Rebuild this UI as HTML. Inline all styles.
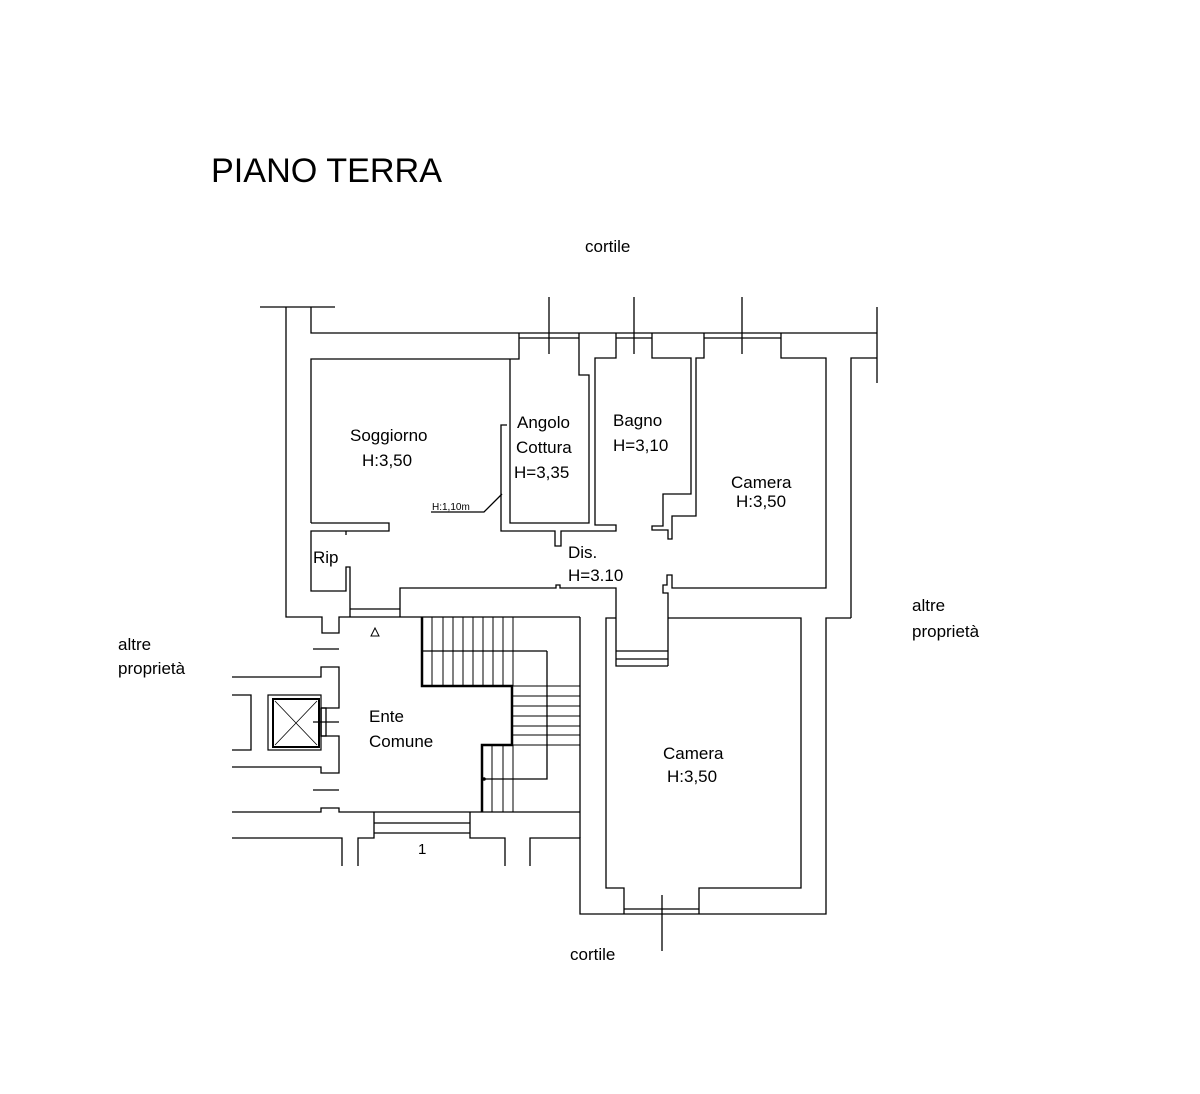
<!DOCTYPE html>
<html><head><meta charset="utf-8"><style>
html,body{margin:0;padding:0;background:#fff;}
svg{display:block;}
text{font-family:"Liberation Sans",sans-serif;fill:#000;}
</style></head><body>
<svg width="1200" height="1094" viewBox="0 0 1200 1094" xmlns="http://www.w3.org/2000/svg">
<rect width="1200" height="1094" fill="#fff"/>
<g fill="none" stroke="#000" stroke-width="1.3">
<!-- left outer wall -->
<polyline points="260,307 335,307"/>
<polyline points="286,307 286,617 322,617 322,633 339,633 339,617 580,617"/>
<polyline points="311,307 311,333 877,333"/>
<polyline points="877,307 877,383"/>
<!-- top inner line / windows -->
<polyline points="311,523 311,359 519,359 519,333"/>
<line x1="519" y1="338" x2="579" y2="338"/>
<line x1="549" y1="297" x2="549" y2="354"/>
<polyline points="579,333 579,375 589,375 589,523 510,523 510,359"/>
<polyline points="616,333 616,358 595,358 595,525 616,525 616,531 561,531 561,546 555,546 555,531 501,531 501,425 507,425"/>
<line x1="616" y1="338" x2="652" y2="338"/>
<line x1="634" y1="297" x2="634" y2="354"/>
<polyline points="652,333 652,358 691,358 691,494 663,494 663,526 652,526 652,530 668,530 668,539 672,539 672,516 696,516 696,358 704,358 704,333"/>
<line x1="704" y1="338" x2="781" y2="338"/>
<line x1="742" y1="297" x2="742" y2="354"/>
<polyline points="781,333 781,358 826,358 826,588 672,588 672,575 667,575 667,585 663,585 663,593 668,593 668,666"/>
<polyline points="851,618 851,358 877,358"/>
<polyline points="851,618 826,618 826,914 580,914 580,838 530,838 530,866"/>
<!-- soggiorno/rip -->
<polyline points="311,523 389,523 389,531 311,531 311,591 346,591 346,567 350,567 350,617"/>
<line x1="346" y1="531" x2="346" y2="535"/>
<polyline points="350,609 400,609"/>
<polyline points="400,617 400,588 556,588 556,585 560,585 560,588 616,588 616,666 668,666"/>
<line x1="616" y1="651" x2="668" y2="651"/>
<line x1="616" y1="659" x2="668" y2="659"/>
<!-- H1,10 leader -->
<polyline points="431,512 484,512 502,494"/>
<!-- camera 2 -->
<polyline points="668,618 801,618 801,888 699,888 699,914"/>
<polyline points="616,618 606,618 606,888 624,888 624,914"/>
<line x1="624" y1="909" x2="699" y2="909"/>
<line x1="662" y1="895" x2="662" y2="951"/>
<polyline points="580,617 580,812"/>
<!-- ente comune left -->
<line x1="313" y1="649" x2="339" y2="649"/>
<polyline points="232,677 321,677 321,667 339,667 339,708 321,708"/>
<polyline points="321,708 321,736 339,736 339,773 321,773 321,767 232,767"/>
<rect x="321" y="708" width="5" height="28"/>
<line x1="313" y1="722" x2="339" y2="722"/>
<line x1="313" y1="790" x2="339" y2="790"/>
<polyline points="232,812 321,812 321,808 339,808 339,812 580,812"/>
<polyline points="232,695 251,695 251,750 232,750"/>
<rect x="268" y="695" width="53" height="55" stroke-width="1.2"/>
<rect x="273" y="699" width="46" height="48" stroke-width="2"/>
<line x1="275" y1="701" x2="317" y2="745" stroke-width="0.8"/>
<line x1="317" y1="701" x2="275" y2="745" stroke-width="0.8"/>
<!-- bottom -->
<polyline points="232,838 342,838 342,866"/>
<polyline points="358,866 358,838 374,838 374,812"/>
<line x1="374" y1="823" x2="470" y2="823"/>
<line x1="374" y1="833" x2="470" y2="833"/>
<polyline points="470,812 470,838 505,838 505,866"/>
<line x1="580" y1="838" x2="580" y2="812"/>
<!-- stairs -->
<polyline points="422,617 422,686 512,686 512,745 482,745 482,812" stroke-width="2.5"/>
<line x1="422" y1="651" x2="547" y2="651"/>
<polyline points="547,651 547,779 482,779"/>
<g stroke-width="1">
<line x1="432" y1="617" x2="432" y2="686"/><line x1="443" y1="617" x2="443" y2="686"/>
<line x1="453" y1="617" x2="453" y2="686"/><line x1="463" y1="617" x2="463" y2="686"/>
<line x1="473" y1="617" x2="473" y2="686"/><line x1="483" y1="617" x2="483" y2="686"/>
<line x1="493" y1="617" x2="493" y2="686"/><line x1="503" y1="617" x2="503" y2="686"/>
<line x1="513" y1="617" x2="513" y2="686"/>
<line x1="512" y1="686" x2="580" y2="686"/><line x1="512" y1="696" x2="580" y2="696"/>
<line x1="512" y1="706" x2="580" y2="706"/><line x1="512" y1="716" x2="580" y2="716"/>
<line x1="512" y1="726" x2="580" y2="726"/><line x1="512" y1="735" x2="580" y2="735"/>
<line x1="512" y1="745" x2="580" y2="745"/>
<line x1="492" y1="745" x2="492" y2="812"/><line x1="503" y1="745" x2="503" y2="812"/>
<line x1="513" y1="745" x2="513" y2="812"/>
</g>
<polygon points="375,628 371,636 379,636" stroke-width="1"/>
</g>
<circle cx="484" cy="779" r="1.8" fill="#000"/>
<text x="211" y="182" font-size="34" textLength="231" lengthAdjust="spacingAndGlyphs">PIANO TERRA</text>
<text x="585" y="252" font-size="17">cortile</text>
<text x="570" y="960" font-size="17">cortile</text>
<text x="118" y="650" font-size="17">altre</text>
<text x="118" y="674" font-size="17">proprietà</text>
<text x="912" y="611" font-size="17">altre</text>
<text x="912" y="637" font-size="17">proprietà</text>
<text x="350" y="441" font-size="17">Soggiorno</text>
<text x="362" y="466" font-size="17">H:3,50</text>
<text x="517" y="428" font-size="17">Angolo</text>
<text x="516" y="453" font-size="17">Cottura</text>
<text x="514" y="478" font-size="17">H=3,35</text>
<text x="613" y="426" font-size="17">Bagno</text>
<text x="613" y="451" font-size="17">H=3,10</text>
<text x="731" y="488" font-size="17">Camera</text>
<text x="736" y="507" font-size="17">H:3,50</text>
<text x="568" y="558" font-size="17">Dis.</text>
<text x="568" y="581" font-size="17">H=3.10</text>
<text x="313" y="563" font-size="17">Rip</text>
<text x="432" y="510" font-size="10">H:1,10m</text>
<text x="369" y="722" font-size="17">Ente</text>
<text x="369" y="747" font-size="17">Comune</text>
<text x="418" y="854" font-size="15">1</text>
<text x="663" y="759" font-size="17">Camera</text>
<text x="667" y="782" font-size="17">H:3,50</text>
</svg>
</body></html>
